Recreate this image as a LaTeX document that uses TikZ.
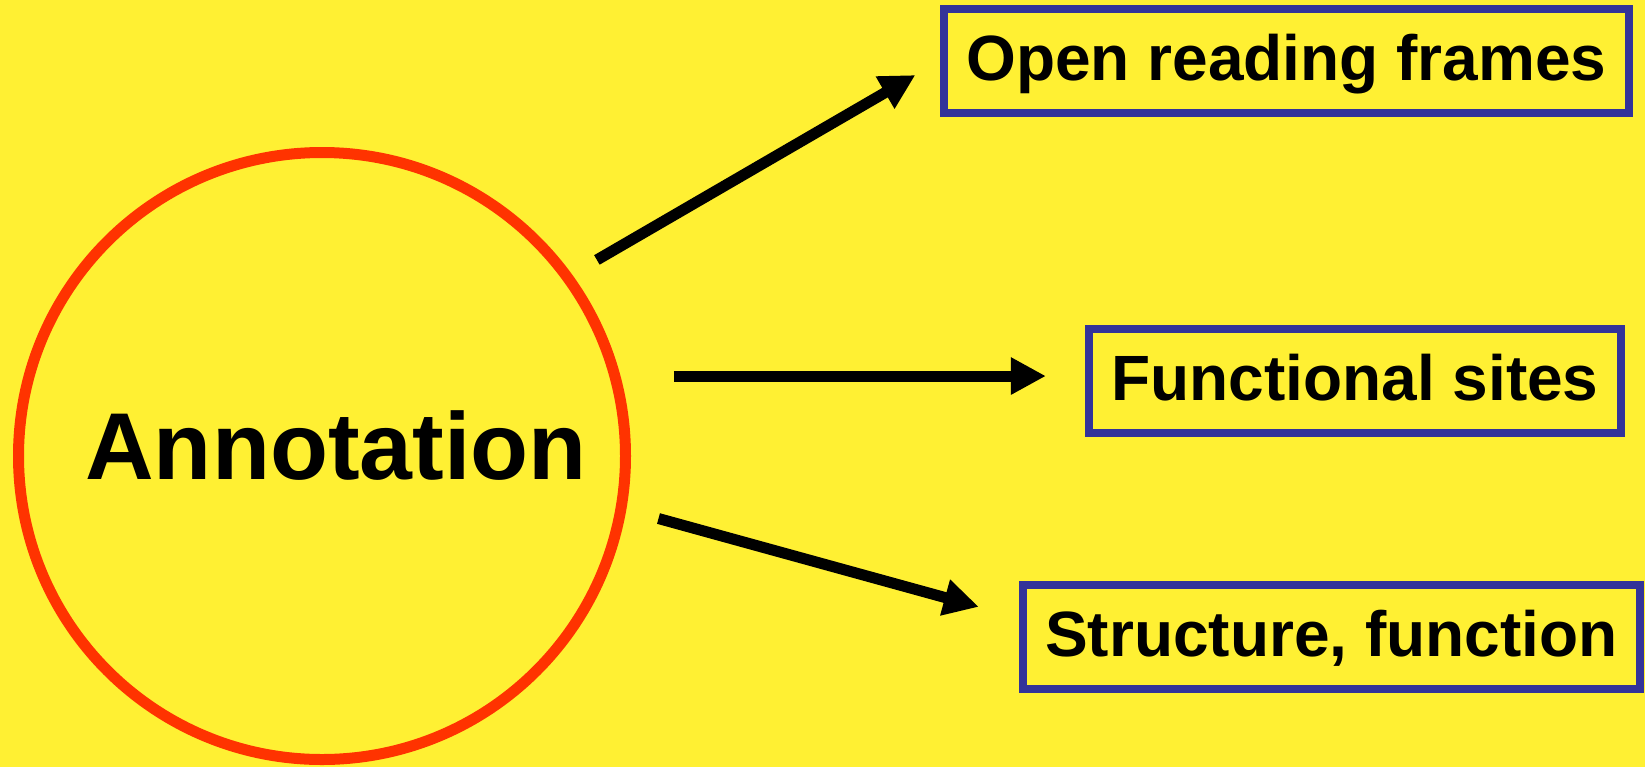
\documentclass[tikz,border=0pt]{standalone}
\usepackage{fontspec}
\setmainfont{Liberation Sans}
\usepackage{tikz}
\usetikzlibrary{arrows.meta, calc}

\definecolor{slideyellow}{RGB}{255,240,51}
\definecolor{annotred}{RGB}{255,51,0}
\definecolor{boxblue}{RGB}{51,51,153}

\tikzset{
  topic/.style = {draw=boxblue, line width=4pt, fill=slideyellow, inner xsep=11pt, inner ysep=0pt,
    minimum height=52pt, text height=23.4pt, text depth=3.8pt,
    font=\fontsize{32pt}{38pt}\selectfont\bfseries},
  pointer/.style = {line width=5.5pt, -{Triangle[length=17.5pt, width=17.5pt]}},
  bigword/.style = {font=\fontsize{47.5pt}{56pt}\selectfont\bfseries, xshift=7pt, yshift=5.25pt}
}

\begin{document}
\begin{tikzpicture}[x=0.5pt, y=-0.5pt]
  \fill[slideyellow] (0,0) rectangle (1645,767);
  \useasboundingbox (0,0) rectangle (1645,767);

  \node[circle, draw=annotred, line width=5.5pt, minimum size=303.5pt, inner sep=0pt,
    label={[bigword]center:Annotation}] (annot) at (322,456) {};

  \node[topic] (orf) at (1286.5,60.5) {Open reading frames};
  \node[topic] (sites) at (1355,380.5) {Functional sites};
  \node[topic] (struct) at (1331.5,636.5) {Structure, function};

  % arrows out of the circle
  \draw[pointer, shorten <=14.4pt, shorten >=14.5pt] (annot.36) -- (orf.west);
  \draw[pointer, shorten <=26.75pt, shorten >=19.75pt] (annot.15) -- (annot.15 -| sites.west);
  \draw[pointer, shorten <=16.7pt, shorten >=21pt] (annot.-10.5) -- ([yshift=9.25pt]struct.west);
\end{tikzpicture}
\end{document}
